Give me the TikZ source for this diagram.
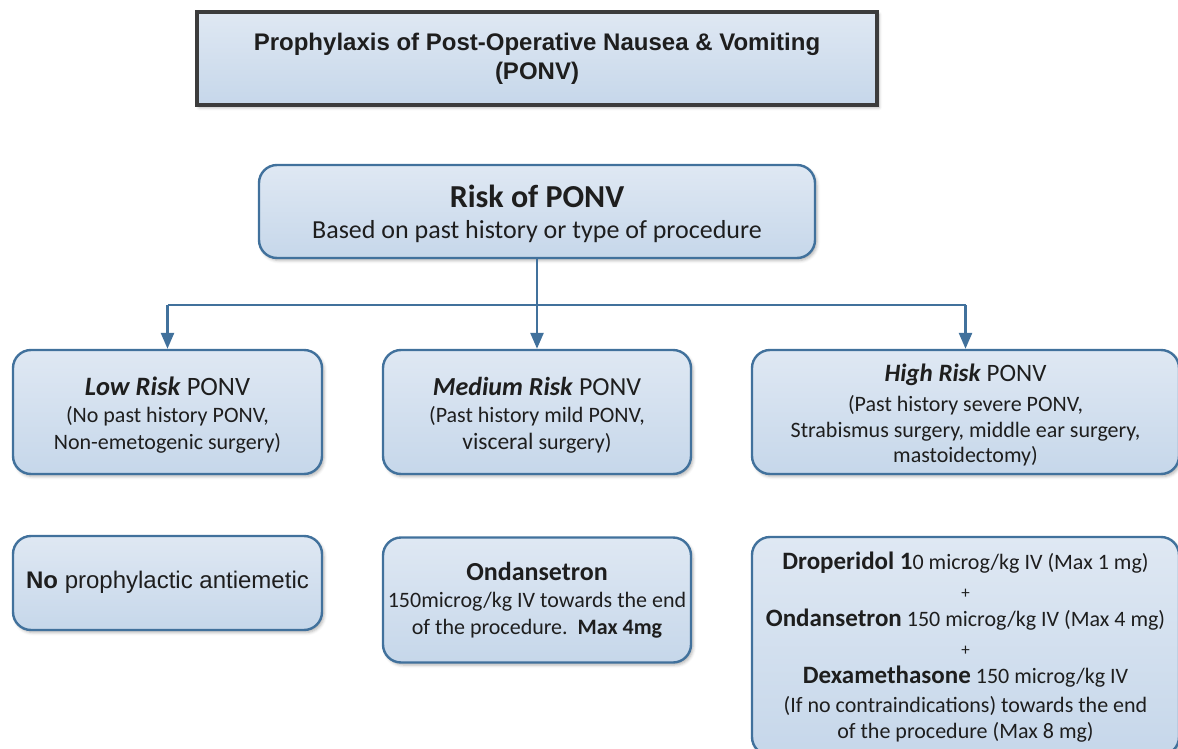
\documentclass[tikz,border=0pt]{standalone}
\usepackage{fontspec}
\setmainfont{Carlito}
\newfontfamily\arialf{Liberation Sans}
\usetikzlibrary{arrows.meta,shadows.blur}
\definecolor{boxblue}{HTML}{41719C}
\definecolor{filltop}{HTML}{DFE8F3}
\definecolor{fillbot}{HTML}{C6D7EA}
\definecolor{titleborder}{HTML}{3C3C3C}
\definecolor{txt}{HTML}{1E1E1E}
\begin{document}
\begin{tikzpicture}[x=1pt,y=-1pt,
  shadowed/.style={blur shadow={shadow xshift=2pt, shadow yshift=-2.5pt, shadow blur radius=3pt, shadow opacity=30}},
  rbox/.style={draw=boxblue, line width=2.4pt, rounded corners=18pt, top color=filltop, bottom color=fillbot, inner sep=0pt, shadowed},
  titlebox/.style={draw=titleborder, line width=3.5pt, top color=filltop, bottom color=fillbot, align=center, inner sep=0pt, text=txt, shadowed},
  boxtext/.style={align=center, inner sep=0pt, text=txt},
  conn/.style={draw=boxblue, line width=2.6pt, -{Triangle[width=13pt,length=16pt]}},
  busline/.style={draw=boxblue, line width=2.6pt},
  small/.style={font=\fontsize{22pt}{27pt}\selectfont},
]
\useasboundingbox (0,0) rectangle (1178,749);
\clip (0,0) rectangle (1178,749);

% title
\node[titlebox, minimum width=680pt, minimum height=93pt,
      font=\arialf\bfseries\fontsize{24pt}{29pt}\selectfont] (title) at (537,58.5)
  {Prophylaxis of Post-Operative Nausea \& Vomiting\\(PONV)};

% boxes
\node[rbox, minimum width=556pt, minimum height=93pt] (risk) at (537,211.5) {};
\node[rbox, minimum width=309pt, minimum height=124pt] (low) at (167.5,412) {};
\node[rbox, minimum width=308pt, minimum height=124pt] (mid) at (537,412) {};
\node[rbox, minimum width=427pt, minimum height=124pt] (high) at (965.5,412) {};
\node[rbox, minimum width=309pt, minimum height=94pt] (lowb) at (167.5,583) {};
\node[rbox, minimum width=308pt, minimum height=125pt] (midb) at (537,600) {};
\node[rbox, minimum width=427pt, minimum height=218pt] (highb) at (965.5,646) {};

% texts
\node[boxtext, font=\fontsize{26pt}{31pt}\selectfont] (riskt) at ([yshift=-2pt]risk.center)
  {{\fontsize{32pt}{31pt}\selectfont\bfseries Risk of PONV}\\
   Based on past history or type of procedure};

\node[boxtext, small] (lowt) at ([yshift=-3pt]low.center)
  {{\fontsize{26.5pt}{28pt}\selectfont\textbf{\textit{Low Risk}} PONV}\\
   (No past history PONV,\\Non-emetogenic surgery)};

\node[boxtext, small] (midt) at ([yshift=-3pt]mid.center)
  {{\fontsize{26pt}{28pt}\selectfont\textbf{\textit{Medium Risk}} PONV}\\
   (Past history mild PONV,\\{\fontsize{23.5pt}{27pt}\selectfont visceral} surgery)};

\node[boxtext, font=\fontsize{22pt}{25.5pt}\selectfont] (hight) at ([yshift=-3pt]high.center)
  {{\fontsize{25pt}{30pt}\selectfont\textbf{\textit{High Risk}} PONV}\\[5pt]
   (Past history severe PONV,\\Strabismus surgery, middle ear surgery,\\mastoidectomy)};

\node[boxtext, font=\arialf\fontsize{24pt}{28pt}\selectfont] (lowbt) at ([yshift=0.5pt]lowb.center)
  {\textbf{No} prophylactic antiemetic};

\node[boxtext, small] (midbt) at (midb.center)
  {{\fontsize{26pt}{28pt}\selectfont\bfseries Ondansetron}\\
   150microg/kg IV towards the end\\of the procedure.\ \ \textbf{Max 4mg}};

\node[boxtext, font=\fontsize{22pt}{28.5pt}\selectfont] (highbt) at ([yshift=-1.5pt]highb.center)
  {{\fontsize{25pt}{28.5pt}\selectfont\bfseries Droperidol 1}0 microg/kg IV (Max 1 mg)\\
   {\fontsize{17pt}{28.5pt}\selectfont +}\\
   {\fontsize{25pt}{28.5pt}\selectfont\bfseries Ondansetron} 150 microg/kg IV (Max 4 mg)\\
   {\fontsize{17pt}{28.5pt}\selectfont +}\\
   {\fontsize{25pt}{28.5pt}\selectfont\bfseries Dexamethasone} 150 microg/kg IV\\
   (If no contraindications) towards the end\\[-2pt]
   of the procedure (Max 8 mg)};

% connectors
\coordinate (bus) at (0,305);
\draw[busline] (low.north |- bus) -- (high.north |- bus);
\draw[conn] (risk.south) -- (mid.north);
\draw[conn] (low.north |- bus) -- (low.north);
\draw[conn] (high.north |- bus) -- (high.north);
\end{tikzpicture}
\end{document}
